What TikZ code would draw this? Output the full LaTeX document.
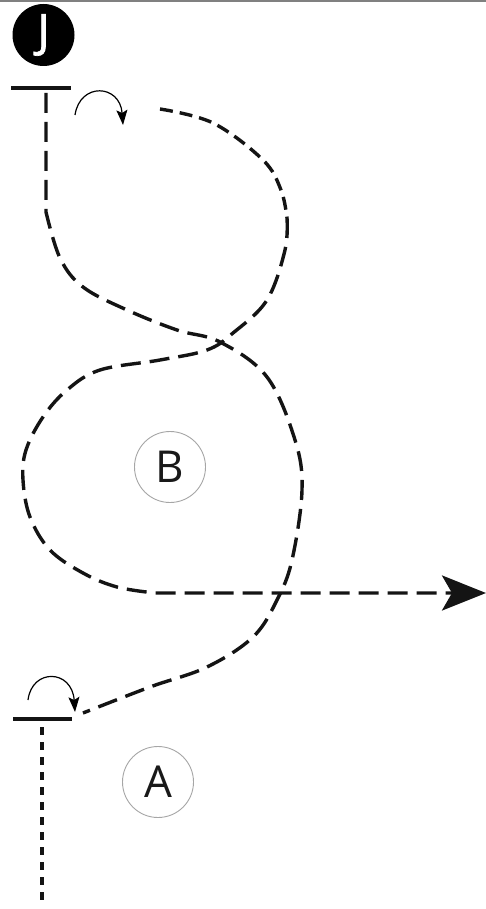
\documentclass[tikz,border=0pt]{standalone}
\usepackage{fontspec}
\newfontfamily\labfont{Open Sans}
\newfontfamily\badgefont[FakeBold=1.5]{Open Sans}
\usetikzlibrary{arrows.meta}
\begin{document}
\begin{tikzpicture}[x=1pt,y=-1pt,
  route/.style={line width=3.4pt, dash pattern=on 20pt off 9pt, black!92},
  routeshort/.style={line width=3.4pt, dash pattern=on 13pt off 7pt, black!92},
  dotline/.style={line width=4pt, dash pattern=on 8pt off 7pt, black!92},
  barline/.style={line width=3.4pt, black!92},
  turn/.style={line width=1.2pt, black, -{Stealth[length=15pt,width=11pt,inset=3pt]}},
  zone/.style={circle, draw=gray!70, line width=0.9pt, minimum size=71pt, inner sep=0pt,
    font=\labfont\fontsize{44}{44}\selectfont, text=black!90},
  badge/.style={circle, fill=black, minimum size=62pt, inner sep=0pt,
    font=\badgefont\fontsize{46}{46}\selectfont, text=white}]
\useasboundingbox (0,0) rectangle (486,909);
\fill[white] (0,0) rectangle (486,909);
\draw[gray, line width=2pt] (0,1) -- (486,1);

% badges and zones
\node[badge] (J) at (43.5,35) {J};
\node[zone] (B) at (170,467) {B};
\node[zone] (A) at (158,782) {A};

% stop bars
\coordinate (topbarL) at (11,88);
\coordinate (topbarR) at (71,88);
\coordinate (botbarL) at (13,719);
\coordinate (botbarR) at (72,719);
\draw[barline] (topbarL) -- (topbarR);
\draw[barline] (botbarL) -- (botbarR);

% route ends
\coordinate (topstart) at (46,93);
\coordinate (botend) at (83,713);
\coordinate (loopstart) at (160,109);
\coordinate (loopjoin) at (287,218);
\coordinate (loopexit) at (155,593);
\coordinate (exitpt) at (486,593);
\coordinate (dotstart) at (42,727);
\coordinate (dotend) at (42,905);

% route from J to A
\draw[route] (topstart) -- plot[smooth, tension=0.6] coordinates {(46,212) (60,258) (83,287) (127,310) (177,330) (220,342) (267,377) (295,440) (302,490) (292,560) (277,600) (253,637) (207,667) (150,687) (botend)};

% loop route
\draw[routeshort] plot[smooth, tension=0.6] coordinates {(loopstart) (213,123) (263,160) (281,190) (loopjoin)};
\draw[route, -{Stealth[length=44pt,width=35pt,inset=10pt]}] plot[smooth, tension=0.6] coordinates {(loopjoin) (285,250) (267,300) (233,333) (207,350) (160,360) (100,370) (67,390) (43,417) (26,450) (23,480) (30,517) (50,550) (83,573) (117,587) (loopexit)} -- (exitpt);

% lower dotted line
\draw[dotline] (dotstart) -- (dotend);

% turn arrows
\coordinate (t1a) at (75,115);
\coordinate (t1b) at (123,125);
\coordinate (t2a) at (28,700);
\coordinate (t2b) at (75,712);
\draw[turn] (t1a) .. controls (80,82) and (120,84) .. (t1b);
\draw[turn] (t2a) .. controls (32,668) and (72,669) .. (t2b);
\end{tikzpicture}
\end{document}
